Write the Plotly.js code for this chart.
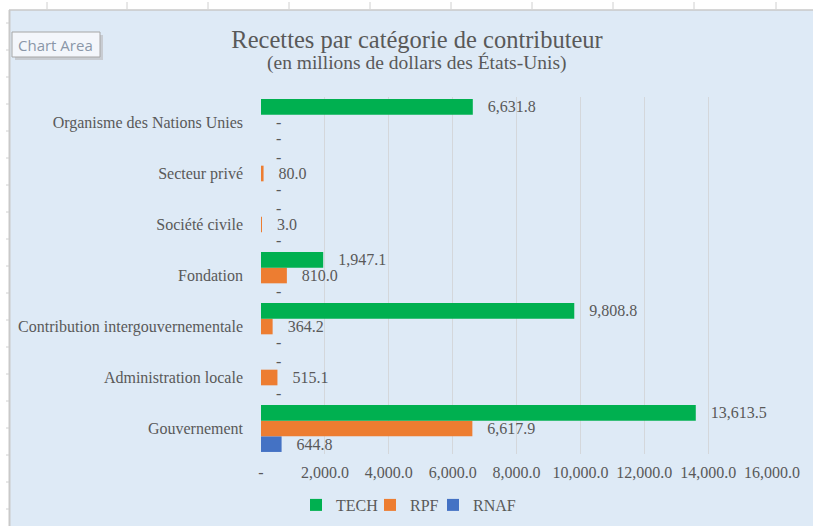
<!DOCTYPE html>
<html>
<head>
<meta charset="utf-8">
<script src="https://cdn.plot.ly/plotly-3.0.1.min.js"></script>
<style>html,body{margin:0;padding:0;background:#fff;}#chart{width:813px;height:526px;}</style>
</head>
<body>
<div id="chart"></div>
<script>
const categories = ["Gouvernement", "Administration locale", "Contribution intergouvernementale", "Fondation", "Société civile", "Secteur privé", "Organisme des Nations Unies"];
const techValues = [13613.5, 0, 9808.8, 1947.1, 0, 0, 6631.8];
const rpfValues  = [6617.9, 515.1, 364.2, 810.0, 3.0, 80.0, 0];
const rnafValues = [644.8, 0, 0, 0, 0, 0, 0];
const xTickVals = [0, 2000, 4000, 6000, 8000, 10000, 12000, 14000, 16000];
const xTickText = ["-", "2,000.0", "4,000.0", "6,000.0", "8,000.0", "10,000.0", "12,000.0", "14,000.0", "16,000.0"];

const FONT = "'Liberation Serif', 'DejaVu Serif', serif";
const GRAY = "#595959";
const BG = "#DEEAF6";

function fmt(v) {
  if (v === 0) return "\u00A0\u00A0\u00A0-";
  return "\u00A0\u00A0\u00A0" + v.toLocaleString("en-US", {minimumFractionDigits: 1, maximumFractionDigits: 1});
}

function barTrace(name, vals, color, rank, lw) {
  const t = {
    type: "bar", orientation: "h", name: name,
    x: vals, y: categories,
    marker: {color: color},
    text: vals.map(fmt),
    textposition: "outside",
    textfont: {family: FONT, size: 16, color: GRAY},
    constraintext: "none",
    cliponaxis: false,
    hoverinfo: "x+name",
    legendrank: rank
  };
  if (lw) t.legendwidth = lw;
  return t;
}

const data = [
  barTrace("RNAF", rnafValues, "#4472C4", 3),
  barTrace("RPF", rpfValues, "#ED7D31", 2, 18),
  barTrace("TECH", techValues, "#00B050", 1, 29)
];

// pixel helpers for decorations (plot area: x 261..772, y 97..454)
const L = 261, R = 772, T = 97, B = 454;
const px = p => (p - L) / (R - L);
const py = p => (B - p) / (B - T);

const shapes = [
  {type: "rect", xref: "paper", yref: "paper", x0: px(-5), x1: px(830), y0: py(-5), y1: py(10), fillcolor: "#FFFFFF", line: {width: 0}, layer: "above"},
  {type: "rect", xref: "paper", yref: "paper", x0: px(-5), x1: px(9), y0: py(-5), y1: py(540), fillcolor: "#FFFFFF", line: {width: 0}, layer: "above"},
  {type: "line", xref: "paper", yref: "paper", x0: px(9), x1: px(830), y0: py(10), y1: py(10), line: {color: "#C9C9C9", width: 1.5}, layer: "above"},
  {type: "line", xref: "paper", yref: "paper", x0: px(9.5), x1: px(9.5), y0: py(10), y1: py(540), line: {color: "#C9C9C9", width: 2}, layer: "above"},
  {type: "rect", xref: "paper", yref: "paper", x0: px(15), x1: px(103), y0: py(35), y1: py(60), fillcolor: "#C8CCD2", line: {width: 0}, layer: "above"},
  {type: "rect", xref: "paper", yref: "paper", x0: px(12), x1: px(100), y0: py(32), y1: py(57), fillcolor: "#F3F6FB", line: {color: "#A6A6A6", width: 1}, layer: "above"}
];
[47, 127, 208, 289, 370, 451, 532, 613, 694, 776].forEach(x => shapes.push({type: "line", xref: "paper", yref: "paper", x0: px(x), x1: px(x), y0: py(2), y1: py(9), line: {color: "#D0D0D0", width: 1}, layer: "above"}));
[23, 50, 77, 104, 131, 158, 185, 212, 239, 266, 293, 320, 347, 374, 401, 428, 455, 482, 509].forEach(y => shapes.push({type: "line", xref: "paper", yref: "paper", x0: px(6), x1: px(9), y0: py(y), y1: py(y), line: {color: "#D0D0D0", width: 1}, layer: "above"}));

const layout = {
  width: 813, height: 526,
  margin: {l: L, r: 813 - R, t: T, b: 526 - B, pad: 0},
  paper_bgcolor: BG, plot_bgcolor: BG,
  barmode: "group", bargap: 0.08, bargroupgap: 0,
  font: {family: FONT, color: GRAY},
  title: {
    text: "Recettes par catégorie de contributeur",
    font: {family: FONT, size: 24.5, color: GRAY},
    x: 0.513, xref: "container", xanchor: "center",
    y: 1 - 39 / 526, yref: "container", yanchor: "middle"
  },
  annotations: [
    {text: "(en millions de dollars des États-Unis)", xref: "paper", yref: "paper", x: px(417), y: py(63), xanchor: "center", yanchor: "middle", showarrow: false, font: {family: FONT, size: 19.5, color: GRAY}},
    {text: "Chart Area", xref: "paper", yref: "paper", x: px(55), y: py(44.5), xanchor: "center", yanchor: "middle", showarrow: false, font: {family: "'Open Sans', sans-serif", size: 15, color: "#8A96A8"}}
  ],
  shapes: shapes,
  xaxis: {
    range: [0, 16000], tickvals: xTickVals, ticktext: xTickText,
    showgrid: true, gridcolor: "#D4D7DB", gridwidth: 1,
    zeroline: false, showline: false, ticks: "",
    tickfont: {family: FONT, size: 16, color: GRAY},
    ticklabelstandoff: 7, fixedrange: true
  },
  yaxis: {
    type: "category", categoryorder: "array", categoryarray: categories,
    showgrid: false, zeroline: false, showline: false, ticks: "",
    tickfont: {family: FONT, size: 16, color: GRAY},
    ticklabelstandoff: 17, fixedrange: true
  },
  legend: {
    orientation: "h", xref: "container", yref: "container",
    x: 296 / 813, xanchor: "left", y: 1 - 505 / 526, yanchor: "middle",
    font: {family: FONT, size: 16, color: GRAY},
    bgcolor: "rgba(0,0,0,0)", itemwidth: 30
  },
  showlegend: true
};

Plotly.newPlot("chart", data, layout, {displayModeBar: false});
</script>
</body>
</html>
